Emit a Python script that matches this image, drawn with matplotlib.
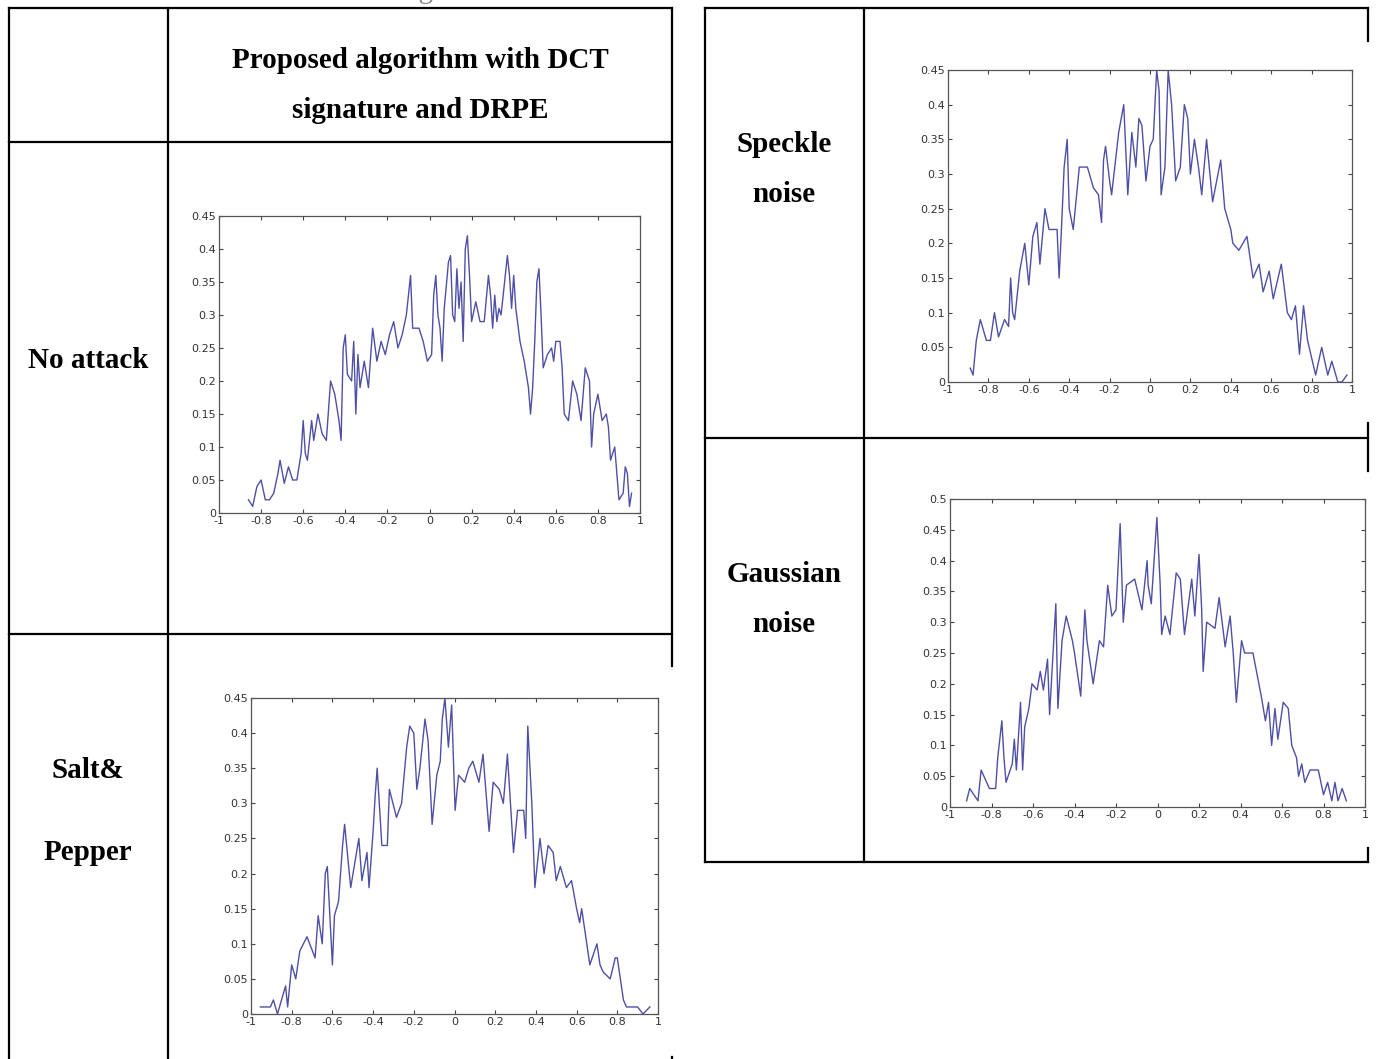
import matplotlib.pyplot as plt
from matplotlib.lines import Line2D
from matplotlib.ticker import FormatStrFormatter

W, H = 1376, 1059

# No attack
na_x = [-0.86, -0.84, -0.82, -0.80, -0.78, -0.76, -0.74, -0.72, -0.71, -0.69,
        -0.67, -0.65, -0.63, -0.61, -0.60, -0.59, -0.58, -0.56, -0.55, -0.53,
        -0.51, -0.49, -0.47, -0.45, -0.43, -0.42, -0.41, -0.40, -0.39, -0.37,
        -0.36, -0.35, -0.34, -0.33, -0.31, -0.29, -0.27, -0.25, -0.23, -0.21,
        -0.19, -0.17, -0.15, -0.13, -0.11, -0.09, -0.08, -0.05, -0.03, -0.01,
        0.01, 0.02, 0.03, 0.04, 0.05, 0.06, 0.07, 0.09, 0.10, 0.11,
        0.12, 0.13, 0.14, 0.15, 0.16, 0.17, 0.18, 0.19, 0.20, 0.22,
        0.24, 0.26, 0.28, 0.29, 0.30, 0.31, 0.32, 0.33, 0.34, 0.35,
        0.37, 0.38, 0.39, 0.40, 0.41, 0.43, 0.45, 0.47, 0.48, 0.49,
        0.50, 0.51, 0.52, 0.53, 0.54, 0.56, 0.58, 0.59, 0.60, 0.62,
        0.63, 0.64, 0.66, 0.68, 0.70, 0.71, 0.72, 0.74, 0.76, 0.77,
        0.78, 0.80, 0.82, 0.84, 0.85, 0.86, 0.88, 0.89, 0.90, 0.92,
        0.93, 0.94, 0.95, 0.96]
na_y = [0.02, 0.01, 0.04, 0.05, 0.02, 0.02, 0.03, 0.06, 0.08, 0.045,
        0.07, 0.05, 0.05, 0.09, 0.14, 0.09, 0.08, 0.14, 0.11, 0.15,
        0.12, 0.11, 0.20, 0.18, 0.14, 0.11, 0.25, 0.27, 0.21, 0.20,
        0.26, 0.15, 0.24, 0.19, 0.23, 0.19, 0.28, 0.23, 0.26, 0.24,
        0.27, 0.29, 0.25, 0.27, 0.30, 0.36, 0.28, 0.28, 0.26, 0.23,
        0.24, 0.33, 0.36, 0.30, 0.28, 0.23, 0.31, 0.38, 0.39, 0.30,
        0.29, 0.37, 0.31, 0.35, 0.26, 0.40, 0.42, 0.36, 0.29, 0.32,
        0.29, 0.29, 0.36, 0.33, 0.28, 0.33, 0.29, 0.31, 0.30, 0.33,
        0.39, 0.36, 0.31, 0.36, 0.31, 0.26, 0.23, 0.19, 0.15, 0.19,
        0.26, 0.35, 0.37, 0.30, 0.22, 0.24, 0.25, 0.23, 0.26, 0.26,
        0.22, 0.15, 0.14, 0.20, 0.18, 0.16, 0.14, 0.22, 0.20, 0.10,
        0.15, 0.18, 0.14, 0.15, 0.13, 0.08, 0.10, 0.06, 0.02, 0.03,
        0.07, 0.06, 0.01, 0.03]

# Salt & Pepper
sp_x = [-0.954, -0.905, -0.89, -0.87, -0.85, -0.83, -0.82, -0.80, -0.78, -0.76,
        -0.725, -0.685, -0.67, -0.65, -0.635, -0.625, -0.60, -0.59, -0.57, -0.55,
        -0.54, -0.51, -0.47, -0.455, -0.43, -0.42, -0.40, -0.39, -0.38, -0.357,
        -0.33, -0.32, -0.285, -0.26, -0.235, -0.22, -0.20, -0.185, -0.17, -0.145,
        -0.13, -0.11, -0.087, -0.07, -0.06, -0.047, -0.03, -0.014, 0.003, 0.02,
        0.05, 0.07, 0.09, 0.12, 0.14, 0.17, 0.19, 0.22, 0.24, 0.26,
        0.29, 0.31, 0.34, 0.35, 0.36, 0.38, 0.395, 0.42, 0.44, 0.46,
        0.485, 0.50, 0.52, 0.55, 0.575, 0.60, 0.615, 0.625, 0.665, 0.70,
        0.715, 0.73, 0.765, 0.79, 0.80, 0.83, 0.845, 0.90, 0.926, 0.96]
sp_y = [0.01, 0.01, 0.02, 0.0, 0.02, 0.04, 0.01, 0.07, 0.05, 0.09,
        0.11, 0.08, 0.14, 0.10, 0.20, 0.21, 0.07, 0.14, 0.16, 0.24,
        0.27, 0.18, 0.25, 0.19, 0.23, 0.18, 0.26, 0.31, 0.35, 0.24,
        0.24, 0.32, 0.28, 0.30, 0.38, 0.41, 0.40, 0.32, 0.35, 0.42,
        0.39, 0.27, 0.34, 0.36, 0.42, 0.45, 0.38, 0.44, 0.29, 0.34,
        0.33, 0.35, 0.36, 0.33, 0.37, 0.26, 0.33, 0.32, 0.30, 0.37,
        0.23, 0.29, 0.29, 0.25, 0.41, 0.30, 0.18, 0.25, 0.20, 0.24,
        0.23, 0.19, 0.21, 0.18, 0.19, 0.15, 0.13, 0.15, 0.07, 0.10,
        0.07, 0.06, 0.05, 0.08, 0.08, 0.02, 0.01, 0.01, 0.0, 0.01]

# Speckle noise
spk_x = [-0.89, -0.876, -0.86, -0.84, -0.81, -0.79, -0.77, -0.75, -0.72, -0.70,
         -0.69, -0.68, -0.67, -0.645, -0.62, -0.60, -0.58, -0.56, -0.545, -0.52,
         -0.50, -0.46, -0.45, -0.44, -0.425, -0.41, -0.40, -0.38, -0.35, -0.31,
         -0.28, -0.255, -0.24, -0.23, -0.22, -0.20, -0.19, -0.155, -0.13, -0.11,
         -0.09, -0.07, -0.055, -0.04, -0.02, 0.0, 0.016, 0.033, 0.045, 0.055,
         0.074, 0.09, 0.107, 0.127, 0.15, 0.17, 0.187, 0.20, 0.22, 0.24,
         0.256, 0.28, 0.30, 0.31, 0.35, 0.37, 0.40, 0.41, 0.44, 0.48,
         0.51, 0.54, 0.56, 0.59, 0.61, 0.65, 0.68, 0.70, 0.72, 0.74,
         0.76, 0.78, 0.82, 0.85, 0.88, 0.90, 0.93, 0.95, 0.975]
spk_y = [0.02, 0.01, 0.06, 0.09, 0.06, 0.06, 0.10, 0.065, 0.09, 0.08,
         0.15, 0.10, 0.09, 0.16, 0.20, 0.14, 0.21, 0.23, 0.17, 0.25,
         0.22, 0.22, 0.15, 0.21, 0.31, 0.35, 0.25, 0.22, 0.31, 0.31,
         0.28, 0.27, 0.23, 0.32, 0.34, 0.29, 0.27, 0.36, 0.40, 0.27,
         0.36, 0.31, 0.38, 0.37, 0.29, 0.34, 0.35, 0.45, 0.42, 0.27,
         0.31, 0.45, 0.40, 0.29, 0.31, 0.40, 0.38, 0.30, 0.35, 0.31,
         0.27, 0.35, 0.29, 0.26, 0.32, 0.25, 0.22, 0.20, 0.19, 0.21,
         0.15, 0.17, 0.13, 0.16, 0.12, 0.17, 0.10, 0.09, 0.11, 0.04,
         0.11, 0.06, 0.01, 0.05, 0.01, 0.03, 0.0, 0.0, 0.01]

# Gaussian noise
gn_x = [-0.92, -0.905, -0.865, -0.85, -0.81, -0.78, -0.77, -0.75, -0.74, -0.73,
        -0.70, -0.69, -0.68, -0.66, -0.65, -0.64, -0.62, -0.605, -0.58, -0.565,
        -0.55, -0.53, -0.52, -0.49, -0.48, -0.46, -0.44, -0.41, -0.40, -0.37,
        -0.35, -0.34, -0.31, -0.28, -0.26, -0.24, -0.22, -0.20, -0.18, -0.165,
        -0.15, -0.11, -0.075, -0.05, -0.045, -0.03, -0.003, 0.013, 0.02, 0.037,
        0.06, 0.09, 0.11, 0.13, 0.165, 0.18, 0.20, 0.213, 0.22, 0.237,
        0.277, 0.297, 0.326, 0.35, 0.365, 0.38, 0.405, 0.42, 0.46, 0.50,
        0.52, 0.535, 0.55, 0.566, 0.58, 0.606, 0.63, 0.647, 0.67, 0.68,
        0.695, 0.71, 0.735, 0.775, 0.80, 0.82, 0.84, 0.855, 0.87, 0.89,
        0.90, 0.91]
gn_y = [0.01, 0.03, 0.01, 0.06, 0.03, 0.03, 0.08, 0.14, 0.08, 0.04,
        0.07, 0.11, 0.06, 0.17, 0.06, 0.13, 0.16, 0.20, 0.19, 0.22,
        0.19, 0.24, 0.15, 0.33, 0.16, 0.27, 0.31, 0.27, 0.25, 0.18,
        0.32, 0.27, 0.20, 0.27, 0.26, 0.36, 0.31, 0.32, 0.46, 0.30,
        0.36, 0.37, 0.32, 0.40, 0.36, 0.33, 0.47, 0.36, 0.28, 0.31,
        0.28, 0.38, 0.37, 0.28, 0.37, 0.31, 0.41, 0.32, 0.22, 0.30,
        0.29, 0.34, 0.26, 0.31, 0.25, 0.17, 0.27, 0.25, 0.25, 0.18,
        0.14, 0.17, 0.10, 0.16, 0.11, 0.17, 0.16, 0.10, 0.08, 0.05,
        0.07, 0.04, 0.06, 0.06, 0.02, 0.04, 0.01, 0.04, 0.01, 0.03,
        0.02, 0.01]

x_ticks = [-1, -0.8, -0.6, -0.4, -0.2, 0, 0.2, 0.4, 0.6, 0.8, 1]
y_ticks_45 = [0, 0.05, 0.1, 0.15, 0.2, 0.25, 0.3, 0.35, 0.4, 0.45]
y_ticks_50 = y_ticks_45 + [0.5]

header = ["Proposed algorithm with DCT", "signature and DRPE"]
row_labels = {
    "No attack": ["No attack"],
    "Salt": ["Salt&", "Pepper"],
    "Speckle": ["Speckle", "noise"],
    "Gaussian": ["Gaussian", "noise"],
}

plt.rcParams['axes.unicode_minus'] = False
fig = plt.figure(figsize=(W / 100, H / 100), dpi=100)


def fx(x):
    return x / W


def fy(y):
    return 1 - y / H


def hline(y, x0, x1):
    fig.add_artist(Line2D([fx(x0), fx(x1)], [fy(y), fy(y)], color='black', lw=1.6))


def vline(x, y0, y1):
    fig.add_artist(Line2D([fx(x), fx(x)], [fy(y0), fy(y1)], color='black', lw=1.6))


# table grid
hline(8, 9, 672)
hline(142, 9, 672)
hline(634, 9, 672)
vline(9, 8, 1059)
vline(168, 8, 1059)
vline(672, 8, 666)
vline(672, 1057, 1059)
hline(8, 705, 1368)
hline(438, 705, 1368)
hline(862, 705, 1368)
vline(705, 8, 862)
vline(864, 8, 862)
vline(1368, 8, 41)
vline(1368, 423, 471)
vline(1368, 848, 862)

serif = ['Liberation Serif', 'DejaVu Serif']


def cell_text(x, ys, lines):
    # va='center' sits a few px high for these glyphs, so nudge down
    for y, s in zip(ys, lines):
        fig.text(fx(x), fy(y + 3), s, family=serif, fontweight='bold', fontsize=21,
                 ha='center', va='center')


# caption above the table, cut off by the top edge (as in the source)
fig.text(fx(336), fy(-2), "Cameraman image", family=serif, fontsize=21,
         color='#888888', ha='center', va='baseline')

cell_text(420, [58, 108], header)
cell_text(88, [358], row_labels["No attack"])
cell_text(88, [768, 850], row_labels["Salt"])
cell_text(784, [141, 192], row_labels["Speckle"])
cell_text(784, [571, 622], row_labels["Gaussian"])


def make_axes(left, top, right, bottom, xs, ys, ymax, yticks):
    ax = fig.add_axes([fx(left), fy(bottom), fx(right - left), (bottom - top) / H])
    ax.plot(xs, ys, color='#4f4fa6', lw=1.0)
    ax.set_xlim(-1, 1)
    ax.set_ylim(0, ymax)
    ax.set_xticks(x_ticks)
    ax.set_yticks(yticks)
    ax.xaxis.set_major_formatter(FormatStrFormatter('%g'))
    ax.yaxis.set_major_formatter(FormatStrFormatter('%g'))
    ax.tick_params(direction='in', length=3, width=0.8, top=True, right=True,
                   labelsize=8, labelcolor='#333333', color='#444444', pad=2)
    for s in ax.spines.values():
        s.set_color('#555555')
        s.set_linewidth(0.9)
    return ax


make_axes(219, 216, 640, 513, na_x, na_y, 0.45, y_ticks_45)
make_axes(251, 698, 658, 1014, sp_x, sp_y, 0.45, y_ticks_45)
make_axes(948, 70, 1352, 382, spk_x, spk_y, 0.45, y_ticks_45)
make_axes(950, 499, 1365, 807, gn_x, gn_y, 0.5, y_ticks_50)

fig.savefig('out.png', dpi=100)
